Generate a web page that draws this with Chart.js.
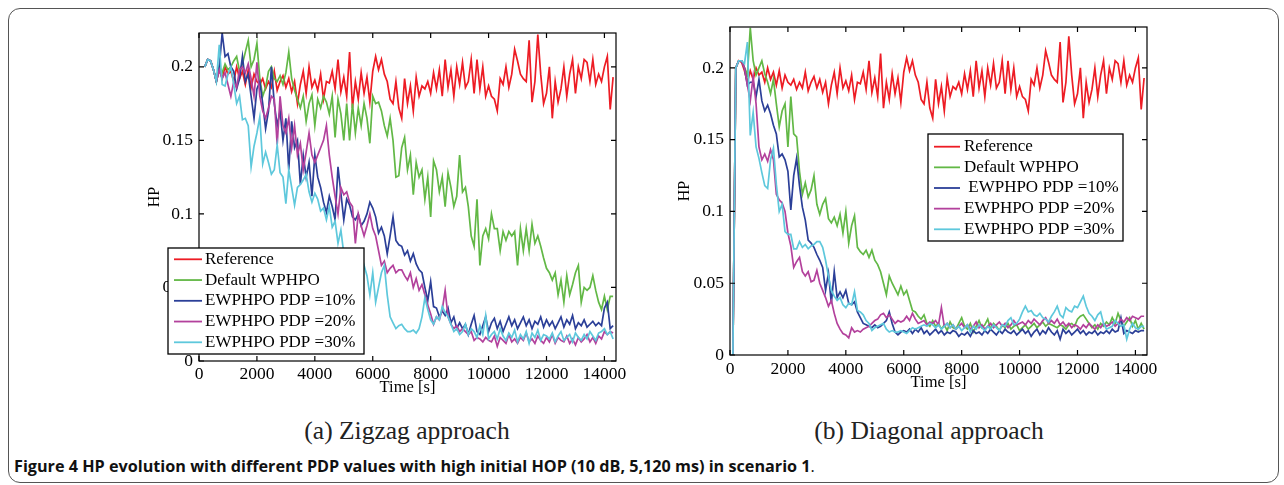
<!DOCTYPE html>
<html>
<head>
<meta charset="utf-8">
<script src="https://cdn.jsdelivr.net/npm/chart.js@4.4.1/dist/chart.umd.min.js"></script>
<style>
  body { margin: 0; background: #fff; width: 1284px; height: 485px; overflow: hidden; position: relative; }
  .box { position: absolute; left: 8px; top: 8px; width: 1271px; height: 475px; box-sizing: border-box;
         border: 1.5px solid #555; border-radius: 12px; }
  canvas { position: absolute; }
  .sub { position: absolute; top: 416px; width: 400px; text-align: center; line-height: 30px;
         font: 25.5px "Liberation Serif", serif; color: #222; }
  .cap { position: absolute; left: 14px; top: 455px; line-height: 20px; white-space: nowrap;
         font: 700 16.2px "Open Sans", sans-serif; color: #111; }
</style>
</head>
<body>
<div class="box"></div>
<canvas id="chartA" width="530" height="390" style="left:110px;top:10px"></canvas>
<canvas id="chartB" width="530" height="390" style="left:640px;top:10px"></canvas>
<div class="sub" style="left:207px">(a) Zigzag approach</div>
<div class="sub" style="left:729px">(b) Diagonal approach</div>
<div class="cap">Figure 4 HP evolution with different PDP values with high initial HOP (10 dB, 5,120 ms) in scenario 1<span style="font-weight:400">.</span></div>
<script>
// legend names, colours
const seriesNames  = ['Reference', 'Default WPHPO', 'EWPHPO PDP =10%', 'EWPHPO PDP =20%', 'EWPHPO PDP =30%'];
const seriesNamesB = ['Reference', 'Default WPHPO', ' EWPHPO PDP =10%', 'EWPHPO PDP =20%', 'EWPHPO PDP =30%'];
const seriesColors = ['#ed1c24', '#62b846', '#2b3f98', '#b3419c', '#5ec8dc'];

const timeTicks = [0, 2000, 4000, 6000, 8000, 10000, 12000, 14000];
const hpTicks = [0, 0.05, 0.1, 0.15, 0.2];

// (a) zigzag: samples every 100 s starting at t = 200 s
const startA = 200, stepA = 100;
const refA = [0.200,0.205,0.204,0.198,0.190,0.198,0.192,0.200,0.195,
  0.197,0.190,0.200,0.192,0.197,0.188,0.198,0.186,0.195,0.190,
  0.188,0.192,0.185,0.190,0.186,0.197,0.184,0.190,0.194,0.186,
  0.192,0.183,0.190,0.175,0.188,0.197,0.182,0.200,0.186,0.191,
  0.184,0.195,0.178,0.190,0.189,0.197,0.185,0.205,0.183,0.193,
  0.180,0.210,0.172,0.190,0.178,0.196,0.182,0.193,0.176,0.197,
  0.207,0.198,0.205,0.195,0.190,0.178,0.175,0.190,0.172,0.165,
  0.192,0.175,0.187,0.170,0.193,0.180,0.187,0.185,0.190,0.182,
  0.196,0.185,0.198,0.180,0.205,0.186,0.198,0.180,0.200,0.188,
  0.203,0.186,0.190,0.205,0.182,0.205,0.185,0.200,0.180,0.187,
  0.180,0.178,0.170,0.192,0.188,0.200,0.186,0.195,0.212,0.204,
  0.195,0.192,0.190,0.218,0.176,0.190,0.222,0.195,0.175,0.182,
  0.200,0.165,0.190,0.176,0.185,0.200,0.180,0.195,0.205,0.182,
  0.200,0.192,0.205,0.203,0.190,0.205,0.188,0.195,0.190,0.200,
  0.207,0.171,0.193];
const defaultA = [0.200,0.205,0.204,0.198,0.190,0.200,0.196,0.202,0.198,
  0.200,0.204,0.207,0.197,0.202,0.210,0.218,0.200,0.205,0.216,
  0.192,0.180,0.186,0.197,0.200,0.192,0.190,0.194,0.188,0.196,
  0.210,0.192,0.184,0.178,0.172,0.180,0.163,0.175,0.181,0.160,
  0.178,0.172,0.180,0.176,0.168,0.180,0.152,0.178,0.168,0.150,
  0.175,0.150,0.175,0.155,0.172,0.160,0.175,0.165,0.148,0.180,
  0.175,0.176,0.170,0.160,0.153,0.165,0.150,0.125,0.126,0.145,
  0.152,0.130,0.140,0.113,0.135,0.125,0.130,0.110,0.125,0.098,
  0.136,0.130,0.115,0.125,0.105,0.128,0.118,0.105,0.112,0.140,
  0.115,0.118,0.105,0.085,0.078,0.110,0.065,0.085,0.090,0.083,
  0.100,0.090,0.090,0.075,0.088,0.082,0.088,0.085,0.088,0.065,
  0.090,0.075,0.090,0.075,0.093,0.080,0.085,0.078,0.070,0.063,
  0.060,0.055,0.060,0.045,0.055,0.040,0.058,0.045,0.052,0.060,
  0.065,0.040,0.050,0.048,0.050,0.058,0.048,0.040,0.035,0.044,
  0.035,0.044,0.044];
const pdp10A = [0.200,0.205,0.204,0.198,0.190,0.200,0.223,0.207,0.209,
  0.200,0.197,0.185,0.192,0.207,0.190,0.195,0.180,0.165,0.185,
  0.190,0.175,0.158,0.170,0.200,0.175,0.160,0.170,0.150,0.165,
  0.130,0.163,0.145,0.150,0.120,0.140,0.125,0.135,0.112,0.140,
  0.125,0.118,0.108,0.101,0.112,0.105,0.096,0.132,0.114,0.096,
  0.110,0.106,0.098,0.096,0.100,0.092,0.095,0.100,0.108,0.104,
  0.098,0.087,0.091,0.085,0.073,0.085,0.098,0.082,0.079,0.078,
  0.072,0.075,0.068,0.073,0.066,0.062,0.060,0.050,0.041,0.054,
  0.037,0.036,0.030,0.034,0.031,0.036,0.026,0.030,0.022,0.026,
  0.022,0.025,0.018,0.025,0.031,0.020,0.018,0.024,0.030,0.020,
  0.026,0.029,0.022,0.027,0.020,0.025,0.030,0.024,0.028,0.022,
  0.026,0.030,0.024,0.028,0.022,0.027,0.025,0.030,0.023,0.028,
  0.024,0.027,0.022,0.026,0.030,0.023,0.028,0.025,0.031,0.022,
  0.026,0.024,0.028,0.023,0.025,0.027,0.024,0.026,0.024,0.036,
  0.040,0.022,0.024];
const pdp20A = [0.200,0.205,0.204,0.198,0.190,0.198,0.192,0.196,0.188,
  0.180,0.190,0.186,0.198,0.200,0.196,0.202,0.192,0.180,0.203,
  0.180,0.170,0.165,0.172,0.180,0.178,0.147,0.180,0.160,0.155,
  0.165,0.145,0.160,0.140,0.148,0.130,0.142,0.155,0.140,0.135,
  0.140,0.145,0.150,0.160,0.140,0.125,0.112,0.100,0.118,0.113,
  0.115,0.108,0.105,0.080,0.100,0.092,0.085,0.092,0.100,0.090,
  0.085,0.075,0.065,0.068,0.060,0.063,0.065,0.060,0.062,0.062,
  0.058,0.055,0.060,0.050,0.056,0.048,0.052,0.045,0.038,0.032,
  0.025,0.030,0.028,0.035,0.048,0.030,0.025,0.022,0.024,0.020,
  0.022,0.020,0.018,0.020,0.014,0.016,0.015,0.013,0.016,0.014,
  0.013,0.017,0.010,0.016,0.014,0.012,0.018,0.013,0.015,0.012,
  0.016,0.014,0.019,0.013,0.015,0.012,0.017,0.014,0.012,0.016,
  0.013,0.018,0.012,0.016,0.014,0.013,0.017,0.012,0.015,0.011,
  0.016,0.013,0.015,0.018,0.013,0.016,0.012,0.017,0.015,0.020,
  0.018,0.020,0.019];
const pdp30A = [0.200,0.205,0.204,0.198,0.190,0.215,0.188,0.187,0.195,
  0.200,0.188,0.175,0.180,0.164,0.165,0.160,0.132,0.146,0.155,
  0.166,0.134,0.142,0.135,0.127,0.130,0.147,0.128,0.125,0.107,
  0.130,0.118,0.106,0.118,0.120,0.123,0.127,0.115,0.108,0.114,
  0.110,0.102,0.104,0.096,0.105,0.091,0.095,0.080,0.089,0.073,
  0.072,0.065,0.070,0.060,0.068,0.055,0.065,0.058,0.045,0.060,
  0.040,0.050,0.060,0.065,0.045,0.030,0.026,0.022,0.024,0.025,
  0.022,0.020,0.020,0.021,0.019,0.022,0.030,0.043,0.035,0.028,
  0.025,0.030,0.028,0.037,0.033,0.030,0.025,0.020,0.022,0.018,
  0.020,0.025,0.018,0.022,0.020,0.016,0.024,0.018,0.031,0.015,
  0.018,0.020,0.015,0.022,0.017,0.014,0.019,0.016,0.021,0.013,
  0.018,0.015,0.020,0.012,0.019,0.016,0.021,0.014,0.018,0.017,
  0.015,0.019,0.013,0.017,0.020,0.014,0.016,0.018,0.013,0.019,
  0.016,0.014,0.018,0.015,0.020,0.017,0.014,0.019,0.020,0.022,
  0.018,0.020,0.015];

// (b) diagonal: samples every 100 s starting at t = 100 s (first sample is 0)
const startB = 100, stepB = 100;
const refB = [0.000].concat(refA); // same reference curve, plus the start sample
const defaultB = [0.000,0.200,0.205,0.205,0.200,0.195,0.228,0.205,0.195,0.200,
  0.205,0.196,0.190,0.182,0.192,0.175,0.159,0.170,0.175,0.145,
  0.180,0.154,0.152,0.128,0.112,0.120,0.110,0.115,0.125,0.105,
  0.098,0.105,0.109,0.095,0.092,0.096,0.090,0.098,0.085,0.100,
  0.078,0.090,0.097,0.075,0.072,0.070,0.073,0.068,0.073,0.066,
  0.063,0.058,0.050,0.042,0.055,0.050,0.046,0.042,0.048,0.042,
  0.045,0.038,0.031,0.030,0.027,0.025,0.028,0.022,0.020,0.024,
  0.020,0.022,0.018,0.021,0.017,0.023,0.019,0.018,0.022,0.026,
  0.020,0.018,0.022,0.016,0.020,0.024,0.019,0.021,0.025,0.018,
  0.022,0.020,0.017,0.021,0.019,0.022,0.018,0.020,0.021,0.017,
  0.019,0.021,0.018,0.020,0.022,0.019,0.021,0.023,0.020,0.022,
  0.021,0.020,0.019,0.021,0.020,0.018,0.021,0.022,0.020,0.025,
  0.027,0.028,0.025,0.022,0.019,0.021,0.018,0.022,0.020,0.023,
  0.021,0.026,0.022,0.029,0.024,0.020,0.023,0.026,0.020,0.024,
  0.018,0.022,0.018];
const pdp10B = [0.000,0.200,0.205,0.205,0.200,0.188,0.190,0.190,0.180,0.192,
  0.177,0.170,0.174,0.168,0.160,0.154,0.138,0.140,0.136,0.128,
  0.101,0.125,0.137,0.118,0.103,0.094,0.080,0.078,0.075,0.070,
  0.066,0.061,0.045,0.057,0.036,0.058,0.040,0.044,0.040,0.045,
  0.036,0.035,0.037,0.030,0.026,0.022,0.021,0.020,0.019,0.021,
  0.019,0.020,0.022,0.024,0.030,0.022,0.016,0.014,0.016,0.017,
  0.016,0.018,0.015,0.018,0.016,0.019,0.015,0.017,0.014,0.016,
  0.018,0.015,0.017,0.014,0.016,0.015,0.017,0.016,0.013,0.015,
  0.014,0.016,0.013,0.017,0.015,0.016,0.014,0.017,0.015,0.018,
  0.016,0.014,0.017,0.015,0.018,0.016,0.015,0.017,0.014,0.016,
  0.018,0.015,0.017,0.013,0.016,0.018,0.014,0.017,0.015,0.019,
  0.016,0.014,0.017,0.011,0.018,0.015,0.017,0.014,0.016,0.018,
  0.015,0.017,0.014,0.016,0.015,0.017,0.014,0.016,0.015,0.017,
  0.015,0.018,0.016,0.017,0.026,0.015,0.017,0.016,0.015,0.017,
  0.016,0.017,0.017];
const pdp20B = [0.000,0.200,0.205,0.205,0.200,0.188,0.177,0.194,0.175,0.145,
  0.136,0.140,0.135,0.143,0.136,0.112,0.108,0.106,0.100,0.085,
  0.076,0.061,0.065,0.068,0.058,0.055,0.058,0.051,0.052,0.059,
  0.050,0.045,0.040,0.034,0.038,0.029,0.022,0.018,0.015,0.014,
  0.012,0.019,0.016,0.017,0.016,0.018,0.019,0.020,0.022,0.024,
  0.025,0.028,0.029,0.026,0.028,0.025,0.022,0.024,0.023,0.024,
  0.027,0.024,0.029,0.025,0.022,0.023,0.024,0.021,0.023,0.022,
  0.024,0.021,0.033,0.020,0.022,0.019,0.021,0.018,0.020,0.022,
  0.019,0.021,0.018,0.020,0.023,0.019,0.021,0.018,0.020,0.022,
  0.019,0.021,0.023,0.020,0.022,0.019,0.021,0.024,0.021,0.022,
  0.023,0.021,0.024,0.022,0.025,0.023,0.021,0.024,0.026,0.022,
  0.024,0.022,0.025,0.021,0.023,0.020,0.022,0.019,0.021,0.020,
  0.018,0.021,0.019,0.022,0.020,0.018,0.021,0.019,0.022,0.020,
  0.021,0.023,0.020,0.022,0.025,0.023,0.026,0.024,0.027,0.026,
  0.025,0.027,0.027];
const pdp30B = [0.000,0.200,0.205,0.205,0.203,0.218,0.153,0.169,0.145,0.137,
  0.127,0.118,0.116,0.136,0.144,0.119,0.100,0.105,0.086,0.084,
  0.084,0.074,0.074,0.079,0.075,0.077,0.074,0.076,0.077,0.079,
  0.079,0.075,0.066,0.055,0.045,0.041,0.038,0.040,0.035,0.033,
  0.036,0.035,0.044,0.031,0.030,0.028,0.024,0.022,0.017,0.019,
  0.020,0.021,0.022,0.018,0.016,0.017,0.016,0.016,0.017,0.016,
  0.015,0.017,0.019,0.018,0.019,0.020,0.021,0.020,0.022,0.021,
  0.019,0.021,0.018,0.020,0.022,0.019,0.021,0.018,0.020,0.017,
  0.019,0.021,0.016,0.020,0.018,0.021,0.019,0.017,0.020,0.018,
  0.021,0.019,0.017,0.021,0.020,0.024,0.026,0.021,0.022,0.025,
  0.030,0.034,0.030,0.031,0.028,0.027,0.029,0.026,0.025,0.023,
  0.027,0.030,0.034,0.028,0.026,0.033,0.031,0.030,0.034,0.033,
  0.037,0.041,0.034,0.029,0.027,0.024,0.028,0.030,0.022,0.018,
  0.019,0.020,0.024,0.022,0.020,0.021,0.011,0.018,0.022,0.019,
  0.018,0.020,0.020];

const serif = '"Liberation Serif", "Times New Roman", serif';

// matlab-ish box around the plot with inward ticks on all four sides
const frameTicks = {
  id: 'frameTicks',
  afterDatasetsDraw(chart) {
    const { ctx, chartArea: a, scales } = chart;
    const len = 5;
    ctx.save();
    ctx.strokeStyle = '#000';
    ctx.lineWidth = 1.2;
    ctx.beginPath();
    scales.x.ticks.forEach(t => {
      const px = scales.x.getPixelForValue(t.value);
      ctx.moveTo(px, a.bottom); ctx.lineTo(px, a.bottom - len);
      ctx.moveTo(px, a.top); ctx.lineTo(px, a.top + len);
    });
    scales.y.ticks.forEach(t => {
      const py = scales.y.getPixelForValue(t.value);
      ctx.moveTo(a.left, py); ctx.lineTo(a.left + len, py);
      ctx.moveTo(a.right, py); ctx.lineTo(a.right - len, py);
    });
    ctx.stroke();
    ctx.strokeRect(a.left, a.top, a.right - a.left, a.bottom - a.top);
    ctx.restore();
  }
};

// boxed legend drawn over the data, like the figure
const boxLegend = {
  id: 'boxLegend',
  afterDraw(chart, args, o) {
    const { ctx } = chart;
    ctx.save();
    ctx.fillStyle = '#fff';
    ctx.fillRect(o.x, o.y, o.w, o.h);
    ctx.strokeStyle = '#000';
    ctx.lineWidth = 1.3;
    ctx.strokeRect(o.x, o.y, o.w, o.h);
    ctx.font = '17px ' + serif;
    ctx.textBaseline = 'middle';
    chart.data.datasets.forEach((ds, i) => {
      const yy = o.row0 + i * o.rowGap;
      ctx.strokeStyle = ds.borderColor;
      ctx.lineWidth = 1.8;
      ctx.beginPath();
      ctx.moveTo(o.lineX0, yy);
      ctx.lineTo(o.lineX1, yy);
      ctx.stroke();
      ctx.fillStyle = '#000';
      ctx.fillText(ds.label, o.textX, yy);
    });
    ctx.restore();
  }
};

function toPoints(values, t0, dt) {
  return values.map((v, i) => ({ x: t0 + i * dt, y: v }));
}

function makeChart(id, names, seriesList, t0, dt, yMax, pad, yAxisW, xAxisH, xTickPad, xTitlePad, legend) {
  const datasets = seriesList.map((vals, i) => ({
    label: names[i],
    data: toPoints(vals, t0, dt),
    borderColor: seriesColors[i],
    borderWidth: 1.7,
    pointRadius: 0,
    tension: 0,
    fill: false,
    clip: 0,
    order: seriesList.length - i
  }));
  return new Chart(document.getElementById(id), {
    type: 'line',
    data: { datasets },
    options: {
      responsive: false,
      animation: false,
      devicePixelRatio: 1,
      layout: { padding: pad },
      plugins: { legend: { display: false }, tooltip: { enabled: false }, boxLegend: legend },
      scales: {
        x: {
          type: 'linear', min: 0, max: 14400,
          grid: { display: false, drawTicks: false }, border: { display: false },
          afterBuildTicks: s => { s.ticks = timeTicks.map(v => ({ value: v })); },
          afterFit: s => { s.height = xAxisH; },
          ticks: { padding: xTickPad, color: '#000', maxRotation: 0, autoSkip: false,
                   font: { family: serif, size: 17.5 }, callback: v => String(v) },
          title: { display: true, text: 'Time [s]', color: '#000',
                   font: { family: serif, size: 16.5 }, padding: { top: 0, bottom: xTitlePad } }
        },
        y: {
          type: 'linear', min: 0, max: yMax,
          grid: { display: false, drawTicks: false }, border: { display: false },
          afterBuildTicks: s => { s.ticks = hpTicks.map(v => ({ value: v })); },
          afterFit: s => { s.width = yAxisW; },
          ticks: { padding: 6, color: '#000', font: { family: serif, size: 17.5 },
                   callback: v => String(Math.round(v * 100) / 100) },
          title: { display: true, text: 'HP', color: '#000',
                   font: { family: serif, size: 16 }, padding: { top: 35, bottom: 0 } }
        }
      }
    },
    plugins: [frameTicks, boxLegend]
  });
}

makeChart('chartA', seriesNames, [refA, defaultA, pdp10A, pdp20A, pdp30A], startA, stepA,
  0.223, { top: 23, right: 24, bottom: 0, left: 0 }, 89, 39, 3, 2,
  { x: 58, y: 238, w: 196, h: 106, row0: 249.3, rowGap: 20.75, lineX0: 64, lineX1: 92, textX: 95 });

makeChart('chartB', seriesNamesB, [refB, defaultB, pdp10B, pdp20B, pdp30B], startB, stepB,
  0.2285, { top: 17, right: 23, bottom: 0, left: 0 }, 90, 45, 4, 7,
  { x: 288, y: 124, w: 195, h: 107, row0: 136.7, rowGap: 20.65, lineX0: 294, lineX1: 320, textX: 324 });
</script>
</body>
</html>
